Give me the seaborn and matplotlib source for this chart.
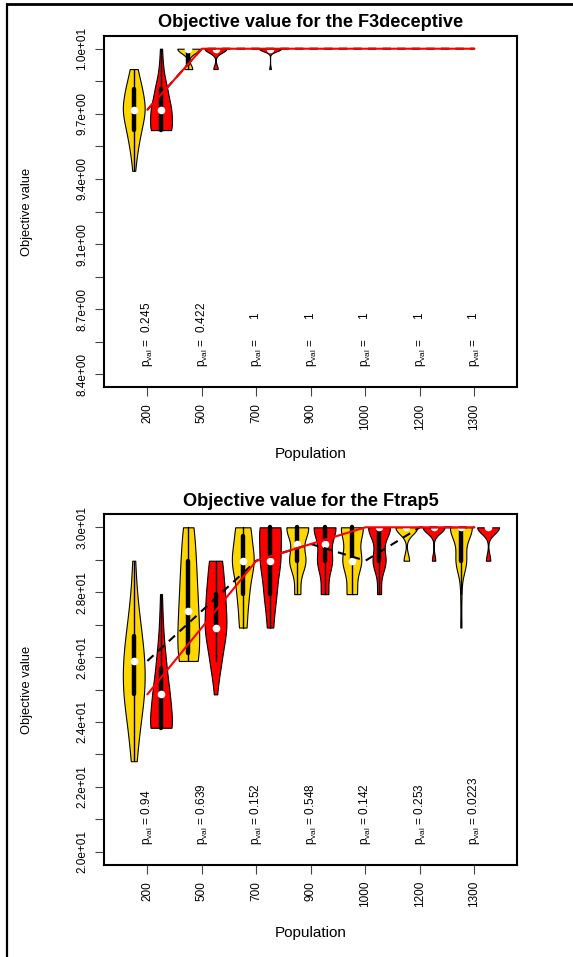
import numpy as np
import pandas as pd
import seaborn as sns
import matplotlib
matplotlib.use("Agg")
import matplotlib.pyplot as plt
from matplotlib.lines import Line2D

sns.set_style("ticks")
plt.rcParams["font.family"] = ["Liberation Sans", "DejaVu Sans"]
plt.rcParams["text.color"] = "black"
plt.rcParams["axes.labelcolor"] = "black"
plt.rcParams["xtick.color"] = "black"
plt.rcParams["ytick.color"] = "black"

# ---------------- data ----------------
POPULATIONS = ["200", "500", "700", "900", "1000", "1200", "1300"]

# F3deceptive: objective levels and number of runs at each level
F3_LEVELS = [10.0, 9.9, 9.8, 9.7, 9.6, 9.5, 9.4]
F3_YELLOW_COUNTS = [
    [0, 3, 7, 10, 6, 3, 1],
    [22, 8, 0, 0, 0, 0, 0],
    [30, 0, 0, 0, 0, 0, 0],
    [30, 0, 0, 0, 0, 0, 0],
    [30, 0, 0, 0, 0, 0, 0],
    [30, 0, 0, 0, 0, 0, 0],
    [30, 0, 0, 0, 0, 0, 0],
]
F3_RED_COUNTS = [
    [1, 2, 6, 10, 11, 0, 0],
    [25, 5, 0, 0, 0, 0, 0],
    [28, 2, 0, 0, 0, 0, 0],
    [30, 0, 0, 0, 0, 0, 0],
    [30, 0, 0, 0, 0, 0, 0],
    [30, 0, 0, 0, 0, 0, 0],
    [30, 0, 0, 0, 0, 0, 0],
]
F3_PVALS = ["  0.245", "  0.422", "      1", "      1", "      1", "      1", "      1"]
F3_TICKS = [8.4, 8.56, 8.72, 8.88, 9.04, 9.2, 9.36, 9.52, 9.68, 9.84, 10.0]
F3_TICKLABELS = ["8.4e+00", "", "8.7e+00", "", "9.1e+00", "", "9.4e+00", "",
                 "9.7e+00", "", "1.0e+01"]

# Ftrap5
TRAP_LEVELS = [30.0, 28.97, 27.94, 26.91, 25.88, 24.85, 23.82, 22.79]
TRAP_YELLOW_COUNTS = [
    [0, 1, 2, 5, 8, 8, 4, 2],
    [4, 5, 6, 7, 8, 0, 0, 0],
    [8, 12, 6, 4, 0, 0, 0, 0],
    [15, 11, 4, 0, 0, 0, 0, 0],
    [13, 11, 6, 0, 0, 0, 0, 0],
    [24, 6, 0, 0, 0, 0, 0, 0],
    [19, 9, 1, 1, 0, 0, 0, 0],
]
TRAP_RED_COUNTS = [
    [0, 0, 1, 2, 5, 9, 13, 0],
    [0, 6, 8, 10, 5, 1, 0, 0],
    [11, 10, 6, 3, 0, 0, 0, 0],
    [15, 10, 5, 0, 0, 0, 0, 0],
    [17, 10, 3, 0, 0, 0, 0, 0],
    [26, 4, 0, 0, 0, 0, 0, 0],
    [25, 5, 0, 0, 0, 0, 0, 0],
]
TRAP_PVALS = [" 0.94", " 0.639", " 0.152", " 0.548", " 0.142", " 0.253", " 0.0223"]
TRAP_TICKS = [20, 21, 22, 23, 24, 25, 26, 27, 28, 29, 30]
TRAP_TICKLABELS = ["2.0e+01", "", "2.2e+01", "", "2.4e+01", "", "2.6e+01", "",
                   "2.8e+01", "", "3.0e+01"]

GROUPS = ["yellow", "red"]
FILL = {"yellow": "#FFD700", "red": "#FF0000"}
LINE = {"yellow": "black", "red": "#FF0000"}


def build_frame(levels, ycounts, rcounts):
    rows = []
    for pop, yc, rc in zip(POPULATIONS, ycounts, rcounts):
        for grp, cnt in (("yellow", yc), ("red", rc)):
            for lev, c in zip(levels, cnt):
                rows += [(pop, grp, lev)] * c
    return pd.DataFrame(rows, columns=["pop", "group", "value"])


W, H = 573, 957
fig = plt.figure(figsize=(W / 100, H / 100), dpi=100)

panels = [
    dict(top=35.7, bottom=387.3, levels=F3_LEVELS, yc=F3_YELLOW_COUNTS, rc=F3_RED_COUNTS,
         pvals=F3_PVALS, ticks=F3_TICKS, labels=F3_TICKLABELS, ylim=(8.336, 10.064),
         title="Objective value for the F3deceptive", title_base=26.7, xlab_base=458.3),
    dict(top=514, bottom=865, levels=TRAP_LEVELS, yc=TRAP_YELLOW_COUNTS, rc=TRAP_RED_COUNTS,
         pvals=TRAP_PVALS, ticks=TRAP_TICKS, labels=TRAP_TICKLABELS, ylim=(19.59, 30.41),
         title="Objective value for the Ftrap5", title_base=505.7, xlab_base=936.7),
]

left, right = 104.3, 517.0
for p in panels:
    ax = fig.add_axes([left / W, 1 - p["bottom"] / H, (right - left) / W,
                       (p["bottom"] - p["top"]) / H])
    df = build_frame(p["levels"], p["yc"], p["rc"])
    # groups with a single distinct value give no violin (as in the reference)
    dfv = df.groupby(["pop", "group"]).filter(lambda g: g["value"].nunique() > 1)

    sns.violinplot(data=dfv, x="pop", y="value", hue="group", order=POPULATIONS,
                   hue_order=GROUPS, palette=FILL, cut=0, density_norm="width",
                   width=1.0, gap=0.2, inner="box",
                   inner_kws=dict(box_width=3.2, whis_width=1.0, marker=""),
                   linecolor="black", linewidth=0.8, saturation=1, legend=False, ax=ax)

    sns.pointplot(data=dfv, x="pop", y="value", hue="group", order=POPULATIONS,
                  hue_order=GROUPS, palette={"yellow": "white", "red": "white"},
                  estimator="median", errorbar=None, dodge=0.5, markers=["o", "o"],
                  linestyles=["none", "none"], markersize=5.5, markeredgewidth=0,
                  legend=False, ax=ax)

    sns.pointplot(data=df, x="pop", y="value", hue="group", order=POPULATIONS,
                  hue_order=GROUPS, palette=LINE, estimator="median", errorbar=None,
                  dodge=False, markers=["", ""], linestyles=[(0, (4, 3)), "-"],
                  linewidth=1.5, legend=False, ax=ax)

    for i, pv in enumerate(p["pvals"]):
        ax.text(i, 0.058, r"$\mathregular{p_{val}}$ =" + pv, transform=ax.get_xaxis_transform(),
                rotation=90, ha="center", va="bottom", fontsize=8.5)

    ax.set_xlim(-0.79, 6.78)
    ax.set_ylim(*p["ylim"])
    ax.set_yticks(p["ticks"])
    ax.set_yticklabels(p["labels"], rotation=90, va="center")
    ax.set_xticks(range(len(POPULATIONS)))
    ax.set_xticklabels(POPULATIONS, rotation=90)
    ax.set_xlabel("")
    ax.set_ylabel("")
    for s in ax.spines.values():
        s.set_visible(True)
        s.set_linewidth(1.5)
        s.set_color("black")
    ax.tick_params(axis="both", length=6.5, width=0.8, color="#444444",
                   labelsize=8.5, pad=5, labelcolor="black")

    cx = (left + right) / 2 / W
    fig.text(cx, 1 - p["title_base"] / H, p["title"], ha="center", va="baseline",
             fontsize=13.1, fontweight="bold")
    fig.text(cx, 1 - p["xlab_base"] / H, "Population", ha="center", va="baseline",
             fontsize=11)
    fig.text(27 / W, 1 - (p["top"] + p["bottom"]) / 2 / H, "Objective value",
             rotation=90, ha="center", va="center", fontsize=9.3)

# outer frame (top and left edges)
fig.add_artist(Line2D([7 / W, 1.0], [1 - 4 / H, 1 - 4 / H], transform=fig.transFigure,
                      color="black", lw=2))
fig.add_artist(Line2D([7 / W, 7 / W], [0.0, 1 - 4 / H], transform=fig.transFigure,
                      color="black", lw=1.6))

fig.savefig("out.png", dpi=100)
